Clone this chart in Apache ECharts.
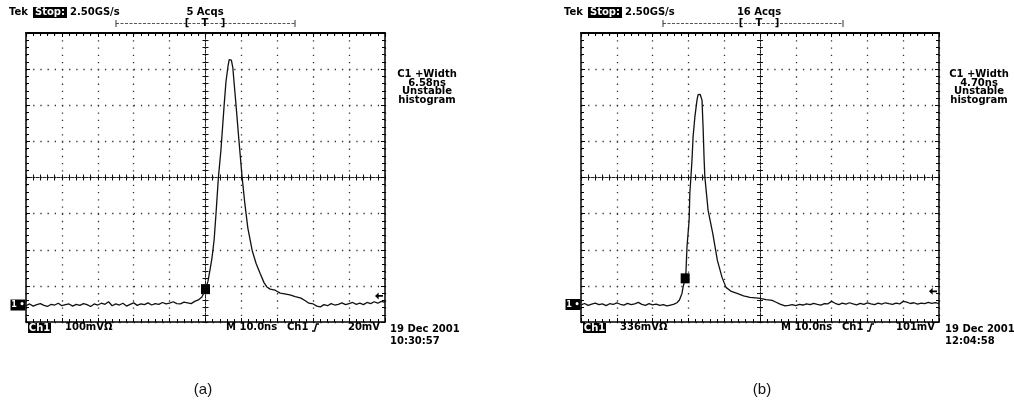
<!DOCTYPE html>
<html><head><meta charset="utf-8">
<script src="https://cdn.jsdelivr.net/npm/echarts@6/dist/echarts.min.js"></script>
<style>html,body{margin:0;padding:0;background:#fff}#c{width:1014px;height:403px}</style>
</head><body><div id="c"></div>
<script>
// ---- data (time in ns, voltage in mV) ----
const timeRange = [-50, 50];          // 10 ns/div
const leftVoltRange = [-400, 400];    // 100 mV/div
const rightVoltRange = [-1344, 1344]; // 336 mV/div

const leftTime = [-50,-49,-48,-47,-46,-45,-44,-43,-42,-41,-40,-39,-38,-37,-36,-35,-34,-33,-32,-31,-30,-29,-28,-27,-26,-25,-24,-23,-22,-21,-20,-19,-18,-17,-16,-15,-14,-13,-12,-11,-10,-9,-8,
  -7,-6,-5,-4,-3,-2,-1,0,0.7,1.25,1.8,2.4,2.9,3.6,4.3,5.2,5.7,6.3,6.6,6.9,7.2,7.6,7.9,8.5,9.3,10.2,11.0,11.8,13.0,14.1,15.2,16.3,17.1,18.0,19.4,20.8,22.0,23.5,25.0,26.6,27.8,28.8,
  30,31,32,33,34,35,36,37,38,39,40,41,42,43,44,45,46,47,48,49,50];
const leftVolt = [-355,-350,-356,-352,-349,-354,-357,-351,-353,-348,-355,-352,-350,-356,-351,-354,-349,-352,-357,-350,-353,-348,-351,-344,-355,-350,-353,-348,-356,-351,-347,-354,-350,-352,-347,-353,-349,-351,-346,-350,-348,-344,-349,
  -350,-345,-347,-349,-343,-339,-331,-309,-287,-256,-223,-173,-104,1,76,201,265,310,326,331,325,305,270,201,104,1,-76,-140,-202,-238,-265,-291,-303,-309,-312,-320,-322,-325,-330,-334,-341,-348,
  -350,-356,-358,-352,-355,-349,-353,-351,-347,-352,-349,-346,-351,-348,-352,-346,-349,-344,-348,-343,-346];

const rightTime = [-50,-49,-48,-47,-46,-45,-44,-43,-42,-41,-40,-39,-38,-37,-36,-35,-34,-33,-32,-31,-30,-29,-28,-27,-26,-25,-24,
  -23.2,-22.5,-21.8,-21.5,-20.9,-20.7,-20.4,-19.8,-19.6,-19.3,-19.0,-18.7,-18.2,-17.6,-17.3,-17.0,-16.7,-16.2,-15.9,-15.6,-15.4,-14.5,-13.2,-11.9,-10.6,-9.5,-8.0,-6.4,-4.6,-2.8,-1.2,0,1.7,3.4,4.5,5.6,
  7,8,9,10,11,12,13,14,15,16,17,18,19,20,21,22,23,24,25,26,27,28,29,30,31,32,33,34,35,36,37,38,39,40,41,42,43,44,45,46,47,48,49,50];
const rightVolt = [-1185,-1172,-1190,-1178,-1168,-1183,-1176,-1192,-1174,-1181,-1166,-1179,-1187,-1171,-1183,-1175,-1162,-1180,-1189,-1173,-1184,-1177,-1190,-1183,-1195,-1186,-1178,
  -1165,-1140,-1078,-1022,-938,-892,-649,-398,-146,3,161,375,561,720,770,785,772,720,469,161,3,-305,-519,-771,-929,-1022,-1060,-1078,-1100,-1115,-1120,-1125,-1135,-1143,-1160,-1178,
  -1195,-1190,-1183,-1192,-1180,-1186,-1175,-1183,-1170,-1179,-1187,-1174,-1175,-1152,-1170,-1182,-1168,-1178,-1165,-1176,-1184,-1170,-1180,-1166,-1175,-1183,-1169,-1177,-1165,-1174,-1181,-1168,-1176,-1152,-1160,-1172,-1165,-1178,-1168,-1174,-1162,-1170,-1164,-1172];

const leftTrigger = [0, -309];
const rightTrigger = [-20.9, -938];
const leftGround = -353;
const rightGround = -1181;
const leftTrigLevel = -328;
const rightTrigLevel = -1059;

const leftTexts = { acqs: '5 Acqs', width: '6.58ns', scale: '100mV\u03A9', trig: '20mV', date: '19 Dec 2001', time: '10:30:57', tag: '(a)' };
const rightTexts = { acqs: '16 Acqs', width: '4.70ns', scale: '336mV\u03A9', trig: '101mV', date: '19 Dec 2001', time: '12:04:58', tag: '(b)' };

if (leftTime.length !== leftVolt.length || rightTime.length !== rightVolt.length) {
  throw new Error('length mismatch ' + leftTime.length + '/' + leftVolt.length + ' ' + rightTime.length + '/' + rightVolt.length);
}

// ---- layout ----
const panels = [
  { left: 26, top: 33, width: 359, height: 289, vr: leftVoltRange, vint: 100, dx: 0, textCx: 427, brk: [116, 295], brkC: 205, tagX: 203 },
  { left: 581, top: 33, width: 358, height: 289, vr: rightVoltRange, vint: 336, dx: 555, textCx: 979, brk: [663, 843], brkC: 759, tagX: 762 }
];

const grids = [], xAxes = [], yAxes = [];
const BLACK = '#000';
panels.forEach((p, i) => {
  const g0 = grids.length;
  for (let k = 0; k < 3; k++) grids.push({ left: p.left, top: p.top, width: p.width, height: p.height, containLabel: false });
  const hPeriod = p.width / 50, vPeriod = p.height / 40;
  const border = (pos, isX, split) => ({
    gridIndex: g0, type: 'value', position: pos,
    min: isX ? timeRange[0] : p.vr[0], max: isX ? timeRange[1] : p.vr[1], interval: isX ? 10 : p.vint,
    axisLine: { show: true, onZero: false, lineStyle: { color: BLACK, width: pos === 'top' ? 2 : 1.5 } },
    axisTick: { show: true, inside: true, length: 4, lineStyle: { color: BLACK, width: 1 } },
    minorTick: { show: true, splitNumber: 5, length: 3, lineStyle: { color: BLACK, width: 1 } },
    axisLabel: { show: false },
    splitLine: { show: split, lineStyle: { color: '#333', width: 1.3, type: isX ? [1.3, vPeriod - 1.3] : [1.3, hPeriod - 1.3] } }
  });
  xAxes.push(border('bottom', true, true), border('top', true, false));
  yAxes.push(border('left', false, true), border('right', false, false));
  [true, false].forEach((inside, k) => {
    const gi = g0 + 1 + k;
    const center = (isX) => ({
      gridIndex: gi, type: 'value',
      min: isX ? timeRange[0] : p.vr[0], max: isX ? timeRange[1] : p.vr[1], interval: isX ? 10 : p.vint,
      axisLine: { show: true, onZero: true, lineStyle: { color: '#222', width: 1, type: [2, 1.5] } },
      axisTick: { show: true, inside: inside, length: 3, lineStyle: { color: '#111', width: 1 } },
      minorTick: { show: true, splitNumber: 5, length: 3, lineStyle: { color: '#111', width: 1 } },
      axisLabel: { show: false }, splitLine: { show: false }
    });
    xAxes.push(center(true));
    yAxes.push(center(false));
  });
});

const arrowPath = 'path://M0,4 L5,0 L5,3 L11,3 L11,5 L5,5 L5,8 Z';
function trace(time, volt, axisIdx, trig, ground, tlevel) {
  return {
    type: 'line', xAxisIndex: axisIdx, yAxisIndex: axisIdx,
    data: time.map((t, i) => [t, volt[i]]),
    showSymbol: false, smooth: false, clip: false,
    lineStyle: { color: '#111', width: 1.3 },
    markPoint: {
      animation: false,
      data: [
        { coord: trig, symbol: 'rect', symbolSize: [9, 10], itemStyle: { color: BLACK }, label: { show: false } },
        { coord: [timeRange[0], ground], symbol: 'rect', symbolSize: [15, 11], symbolOffset: [-8, 0], itemStyle: { color: BLACK },
          label: { show: true, position: 'inside', formatter: '1 \u2022', color: '#fff', fontSize: 8, fontWeight: 'bold', fontFamily: 'DejaVu Sans' } },
        { coord: [timeRange[1], tlevel], symbol: arrowPath, symbolSize: [8, 7], symbolOffset: [-6, 0], itemStyle: { color: BLACK }, label: { show: false } }
      ]
    }
  };
}

const FONT = 'bold 10px "DejaVu Sans"';
function txt(text, x, y, align, color, font) {
  return { type: 'text', silent: true, z: 10, style: { text, x, y, fill: color || BLACK, font: font || FONT,
    textAlign: align || 'left', align: align || 'left', textVerticalAlign: 'middle', verticalAlign: 'middle' } };
}
function rect(x, y, w, h) { return { type: 'rect', silent: true, z: 9, shape: { x, y, width: w, height: h }, style: { fill: BLACK } }; }
function line(x1, y1, x2, y2, color, dash, w) {
  return { type: 'line', silent: true, z: 9, shape: { x1, y1, x2, y2 }, style: { stroke: color || BLACK, lineWidth: w || 1, lineDash: dash || null } };
}

const graphics = [];
panels.forEach((p, i) => {
  const T = i === 0 ? leftTexts : rightTexts;
  const dx = p.dx;
  // header
  graphics.push(txt('Tek', 9 + dx, 12.5));
  graphics.push(rect(33 + dx, 7, 34, 11));
  graphics.push(txt('Stop:', 50 + dx, 12.5, 'center', '#fff'));
  graphics.push(txt('2.50GS/s', 70 + dx, 12.5));
  graphics.push(txt(T.acqs, p.brkC, 12.5, 'center'));
  // record bracket
  graphics.push(line(p.brk[0], 23.5, p.brk[1], 23.5, '#555', [3, 1.5], 1));
  graphics.push(line(p.brk[0], 20, p.brk[0], 27, '#333', null, 1));
  graphics.push(line(p.brk[1], 20, p.brk[1], 27, '#333', null, 1));
  graphics.push(txt('[', p.brkC - 18, 23.5, 'center'));
  graphics.push(txt('T', p.brkC, 23.5, 'center'));
  graphics.push(txt(']', p.brkC + 18, 23.5, 'center'));
  // measurement readout
  graphics.push(txt('C1 +Width', p.textCx, 74.5, 'center'));
  graphics.push(txt(T.width, p.textCx, 83, 'center'));
  graphics.push(txt('Unstable', p.textCx, 91.5, 'center'));
  graphics.push(txt('histogram', p.textCx, 100, 'center'));
  // footer
  graphics.push(rect(28 + dx, 323, 23, 10));
  graphics.push(txt('Ch1', 39.5 + dx, 328, 'center', '#fff'));
  graphics.push(txt(T.scale, 65 + dx, 327.5));
  graphics.push(txt('M 10.0ns', 226 + dx, 327.5));
  graphics.push(txt('Ch1', 287 + dx, 327.5));
  graphics.push({ type: 'polyline', silent: true, z: 9, shape: { points: [[312 + dx, 331], [314.5 + dx, 331], [316.5 + dx, 324], [319 + dx, 324]] }, style: { stroke: BLACK, lineWidth: 1.4, fill: null } });
  graphics.push(txt(T.trig, 380 + dx, 327.5, 'right'));
  graphics.push(txt(T.date, 390 + dx, 329));
  graphics.push(txt(T.time, 390 + dx, 341.5));
  graphics.push(txt(T.tag, p.tagX, 390, 'center', '#111', '15px "Liberation Sans"'));
});

const chart = echarts.init(document.getElementById('c'), null, { renderer: 'canvas' });
chart.setOption({
  animation: false,
  backgroundColor: '#fff',
  grid: grids,
  xAxis: xAxes,
  yAxis: yAxes,
  series: [
    trace(leftTime, leftVolt, 0, leftTrigger, leftGround, leftTrigLevel),
    trace(rightTime, rightVolt, 6, rightTrigger, rightGround, rightTrigLevel)
  ],
  graphic: graphics
});
</script></body></html>
